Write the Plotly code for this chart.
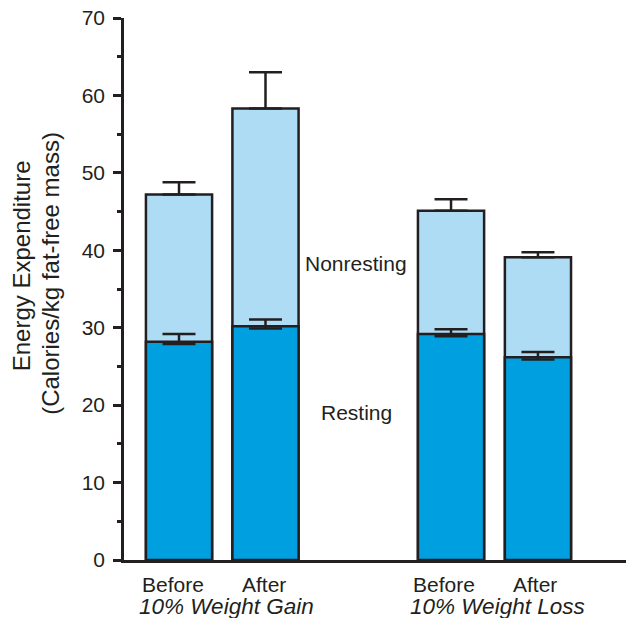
import plotly.graph_objects as go

# ---- data ----
conditions = ["Before", "After", "Before", "After"]
groups = ["10% Weight Gain", "10% Weight Loss"]
resting = [28.2, 30.2, 29.2, 26.2]
resting_err_up = [1.0, 0.85, 0.6, 0.65]
resting_err_down = [0.3, 0.3, 0.3, 0.3]
total = [47.2, 58.3, 45.1, 39.1]
total_err_up = [1.6, 4.7, 1.5, 0.65]
total_err_down = [0.0, 0.0, 0.0, 0.0]
y_ticks = [0, 10, 20, 30, 40, 50, 60, 70]

# ---- layout params ----
xpos = [0, 1, 3.145, 4.15]
ink = "#231f20"
dark = "#00a0e0"
light = "#aedcf4"
font = "Liberation Sans, Arial, Helvetica, sans-serif"

fig = go.Figure()
fig.add_trace(go.Bar(
    x=xpos, y=total, width=0.765,
    marker=dict(color=light, line=dict(color=ink, width=2.5)),
    error_y=dict(type="data", array=total_err_up, arrayminus=total_err_down,
                 symmetric=False, color=ink, thickness=2.5, width=16.5),
    name="Nonresting", showlegend=False, hoverinfo="skip",
))
fig.add_trace(go.Bar(
    x=xpos, y=resting, width=0.765,
    marker=dict(color=dark, line=dict(color=ink, width=2.5)),
    error_y=dict(type="data", array=resting_err_up, arrayminus=resting_err_down,
                 symmetric=False, color=ink, thickness=2.5, width=16.5),
    name="Resting", showlegend=False, hoverinfo="skip",
))

ann = []
shifts = [-6, -2, -7, -3]
for xp, lab, sh in zip(xpos, conditions, shifts):
    ann.append(dict(x=xp, y=0, xref="x", yref="y", text=lab, showarrow=False,
                    xanchor="center", yanchor="middle", yshift=-24, xshift=sh,
                    font=dict(size=21, color=ink, family=font)))
gcenters = [(xpos[0] + xpos[1]) / 2, (xpos[2] + xpos[3]) / 2]
for gx, g, sh in zip(gcenters, groups, [4, 3]):
    ann.append(dict(x=gx, y=0, xref="x", yref="y", text="<i>" + g + "</i>", showarrow=False,
                    xanchor="center", yanchor="middle", yshift=-46, xshift=sh,
                    font=dict(size=22.5, color=ink, family=font)))
ann.append(dict(x=2.05, y=38.3, xref="x", yref="y", text="Nonresting", showarrow=False,
                font=dict(size=21, color=ink, family=font)))
ann.append(dict(x=2.05, y=19.1, xref="x", yref="y", text="Resting", showarrow=False,
                font=dict(size=21, color=ink, family=font)))
ann.append(dict(x=0, y=0.542, xref="paper", yref="paper", text="Energy Expenditure",
                showarrow=False, textangle=-90, xanchor="center", yanchor="middle",
                xshift=-103, font=dict(size=24, color=ink, family=font)))
ann.append(dict(x=0, y=0.528, xref="paper", yref="paper", text="(Calories/kg fat-free mass)",
                showarrow=False, textangle=-90, xanchor="center", yanchor="middle",
                xshift=-73, font=dict(size=24, color=ink, family=font)))

fig.update_layout(
    width=626, height=618,
    margin=dict(l=124, r=0, t=17.5, b=58, pad=0),
    barmode="overlay",
    paper_bgcolor="white", plot_bgcolor="white",
    font=dict(family=font, color=ink, size=21),
    annotations=ann,
    xaxis=dict(range=[-0.636, 5.168], showticklabels=False, ticks="", showgrid=False,
               zeroline=False, showline=True, linecolor=ink, linewidth=2.5, fixedrange=True),
    yaxis=dict(range=[0, 70], tickvals=y_ticks, ticktext=[str(v) for v in y_ticks],
               ticks="outside", ticklen=8, tickwidth=2.5, tickcolor=ink,
               showgrid=False, zeroline=False, showline=True, linecolor=ink, linewidth=2.5,
               tickfont=dict(size=21, color=ink, family=font), ticklabelstandoff=4,
               minor=dict(dtick=5, ticks="outside", ticklen=4, tickwidth=2.5, tickcolor=ink,
                          showgrid=False)),
)

fig.write_html(
    "out.html",
    config={"displayModeBar": False},
    post_script="document.body.style.margin='0';document.body.style.overflow='hidden';",
)
